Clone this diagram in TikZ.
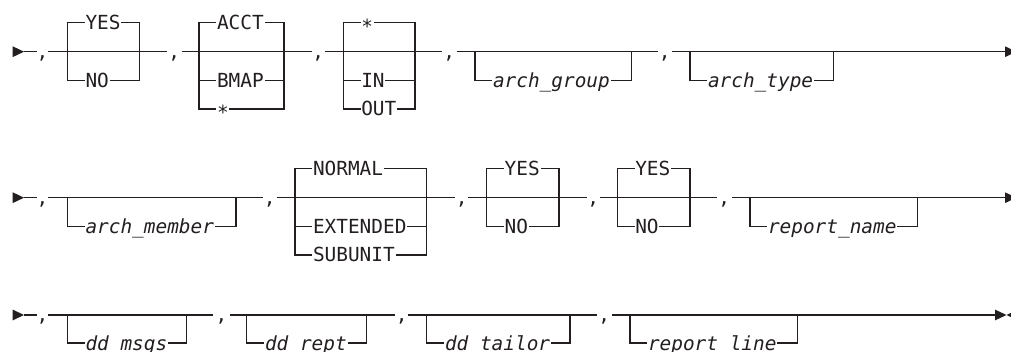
\documentclass[tikz,border=0pt]{standalone}
\usepackage{fontspec}
\newfontfamily\rrfont{DejaVu Sans Mono}[ItalicFont={DejaVu Sans Mono Oblique}]
\definecolor{ink}{RGB}{35,31,32}
\begin{document}
\begin{tikzpicture}[x=1pt,y=-1pt,
  rail/.style={draw=ink,line width=1.1pt},
  lbl/.style={anchor=base west,inner xsep=0.8pt,inner ysep=0pt,fill=white,text=ink,font=\rrfont\fontsize{19.4}{22}\selectfont},
  var/.style={lbl,font=\rrfont\itshape\fontsize{19.4}{22}\selectfont},
  sep/.style={anchor=base,inner sep=0pt,text=ink,font=\rrfont\fontsize{19.4}{22}\selectfont},
  tip/.style={fill=ink}]
\clip (0,0) rectangle (1011,352);
\fill[white] (0,0) rectangle (1011,352);

% ================= Row 1 (main y = 51.7) =================
\fill[tip] (12.7,46.3) -- (24,51.7) -- (12.7,57.1) -- cycle;
\draw[rail] (24,51.7) -- (36.7,51.7);
\node[sep] (r1c1) at (42.5,58.7) {,};
\draw[rail] (48.4,51.7) -- (166.7,51.7);
\draw[rail] (67.7,22.7) rectangle (139.3,80.7);
\node[sep] (r1c2) at (174.2,58.7) {,};
\draw[rail] (181.7,51.7) -- (311.7,51.7);
\draw[rail] (199,22.7) rectangle (284,109);
\draw[rail] (199,80.7) -- (284,80.7);
\node[sep] (r1c3) at (318.3,58.7) {,};
\draw[rail] (324.5,51.7) -- (441.7,51.7);
\draw[rail] (343.3,22.7) rectangle (415,109);
\draw[rail] (343.3,80.7) -- (415,80.7);
\node[sep] (r1c4) at (449.2,58.7) {,};
\draw[rail] (456.7,51.7) -- (658,51.7);
\draw[rail] (475,51.7) -- (475,80.7) -- (631.7,80.7) -- (631.7,51.7);
\node[sep] (r1c5) at (664.8,58.7) {,};
\draw[rail] (671.7,51.7) -- (1005,51.7);
\draw[rail] (690,51.7) -- (690,80.7) -- (833.3,80.7) -- (833.3,51.7);
\fill[tip] (1005,46.3) -- (1016.3,51.7) -- (1005,57.1) -- cycle;

\node[lbl] (r1yes) at (84.5,29.7) {YES};
\node[lbl] (r1no) at (84.5,87.7) {NO};
\node[lbl] (r1acct) at (216,29.7) {ACCT};
\node[lbl] (r1bmap) at (216,87.7) {BMAP};
\node[lbl] (r1star) at (216,120) {*};
\node[lbl] (r1stari) at (360.3,33.7) {*};
\node[lbl] (r1in) at (360.3,87.7) {IN};
\node[lbl] (r1out) at (360.3,116) {OUT};
\node[var] (r1grp) at (492,87.7) {arch\_group};
\node[var] (r1typ) at (707,87.7) {arch\_type};

% ================= Row 2 (main y = 197.7) =================
\fill[tip] (12.7,192.3) -- (24,197.7) -- (12.7,203.1) -- cycle;
\draw[rail] (24,197.7) -- (36.7,197.7);
\node[sep] (r2c1) at (42.5,204.7) {,};
\draw[rail] (48.4,197.7) -- (263,197.7);
\draw[rail] (67.7,197.7) -- (67.7,226.7) -- (236,226.7) -- (236,197.7);
\node[sep] (r2c2) at (269.8,204.7) {,};
\draw[rail] (276.7,197.7) -- (455,197.7);
\draw[rail] (295,168.3) rectangle (426.7,255);
\draw[rail] (295,226.7) -- (426.7,226.7);
\node[sep] (r2c3) at (461.7,204.7) {,};
\draw[rail] (468.3,197.7) -- (586.7,197.7);
\draw[rail] (486.7,168.3) rectangle (559,226.7);
\node[sep] (r2c4) at (593.3,204.7) {,};
\draw[rail] (600,197.7) -- (716.7,197.7);
\draw[rail] (617.3,168.3) rectangle (690,226.7);
\node[sep] (r2c5) at (724.2,204.7) {,};
\draw[rail] (731.7,197.7) -- (1005,197.7);
\draw[rail] (750,197.7) -- (750,226.7) -- (917.3,226.7) -- (917.3,197.7);
\fill[tip] (1005,192.3) -- (1016.3,197.7) -- (1005,203.1) -- cycle;

\node[var] (r2mem) at (84.5,233.7) {arch\_member};
\node[lbl] (r2norm) at (312,175.3) {NORMAL};
\node[lbl] (r2ext) at (312,233.7) {EXTENDED};
\node[lbl] (r2sub) at (312,262) {SUBUNIT};
\node[lbl] (r2yes1) at (503.7,175.3) {YES};
\node[lbl] (r2no1) at (503.7,233.7) {NO};
\node[lbl] (r2yes2) at (634.3,175.3) {YES};
\node[lbl] (r2no2) at (634.3,233.7) {NO};
\node[var] (r2rep) at (767,233.7) {report\_name};

% ================= Row 3 (main y = 315) =================
\fill[tip] (12.7,309.6) -- (24,315) -- (12.7,320.4) -- cycle;
\draw[rail] (24,315) -- (36.7,315);
\node[sep] (r3c1) at (42.5,322) {,};
\draw[rail] (48.4,315) -- (213,315);
\draw[rail] (67.7,315) -- (67.7,343) -- (186.7,343) -- (186.7,315);
\node[sep] (r3c2) at (221.5,322) {,};
\draw[rail] (230,315) -- (395,315);
\draw[rail] (246.7,315) -- (246.7,343) -- (366.7,343) -- (366.7,315);
\node[sep] (r3c3) at (401.7,322) {,};
\draw[rail] (408.3,315) -- (596.7,315);
\draw[rail] (426.7,315) -- (426.7,343) -- (570,343) -- (570,315);
\node[sep] (r3c4) at (604.2,322) {,};
\draw[rail] (611.7,315) -- (995,315);
\draw[rail] (630,315) -- (630,343) -- (797.7,343) -- (797.7,315);
\fill[tip] (995,309.6) -- (1006.5,315) -- (995,320.4) -- cycle;
\fill[tip] (1018,309.6) -- (1006.5,315) -- (1018,320.4) -- cycle;

\node[var] (r3msg) at (84.5,350) {dd\_msgs};
\node[var] (r3rpt) at (264,350) {dd\_rept};
\node[var] (r3tai) at (444,350) {dd\_tailor};
\node[var] (r3lin) at (647,350) {report\_line};
\end{tikzpicture}
\end{document}
